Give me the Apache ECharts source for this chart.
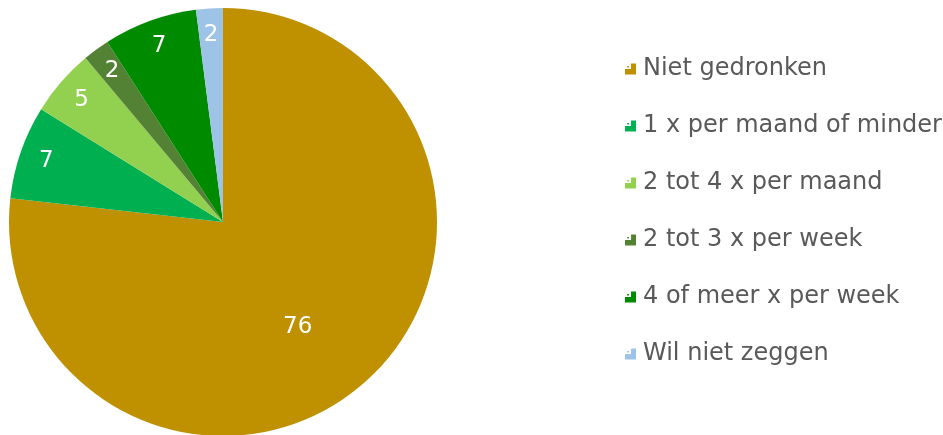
<!DOCTYPE html>
<html>
<head>
<meta charset="utf-8">
<script src="https://cdn.jsdelivr.net/npm/echarts@6/dist/echarts.min.js"></script>
<style>
html,body{margin:0;padding:0;background:#fff;}
#chart{width:943px;height:435px;}
</style>
</head>
<body>
<div id="chart"></div>
<script>
const categories = ['Niet gedronken', '1 x per maand of minder', '2 tot 4 x per maand', '2 tot 3 x per week', '4 of meer x per week', 'Wil niet zeggen'];
const values = [76, 7, 5, 2, 7, 2];
const colors = ['#BF9000', '#00B050', '#92D050', '#548235', '#008A00', '#9DC3E6'];

const font = 'DejaVu Sans';
const center = [223, 222];
const icon = 'path://M5.5,0H10V10H0V5H5.5Z M2,2.2H3.6V3.6H2Z';

function mainData() {
  return categories.map((c, i) => ({ name: c, value: values[i], itemStyle: { color: colors[i] } }));
}
function labelData(showFn) {
  return categories.map((c, i) => ({ name: c, value: values[i], label: { show: showFn(i) } }));
}
const labelStyle = { position: 'inside', color: '#FFFFFF', fontFamily: font, fontSize: 23, formatter: '{c}' };

const chart = echarts.init(document.getElementById('chart'), null, { renderer: 'canvas' });
chart.setOption({
  animation: false,
  legend: {
    orient: 'vertical',
    left: 620,
    top: 52,
    icon: icon,
    itemWidth: 11,
    itemHeight: 11,
    itemGap: 33,
    selectedMode: false,
    data: categories,
    textStyle: { color: '#595959', fontFamily: font, fontSize: 24, lineHeight: 24, padding: [0, 0, 0, 2] }
  },
  series: [
    {
      type: 'pie', center: center, radius: 214, startAngle: 90, clockwise: true,
      label: { show: false }, labelLine: { show: false },
      emphasis: { disabled: true }, silent: true,
      itemStyle: { borderWidth: 0 },
      data: mainData()
    },
    {
      type: 'pie', center: center, radius: [154, 214], startAngle: 90, clockwise: true,
      itemStyle: { color: 'rgba(0,0,0,0)' }, labelLine: { show: false },
      emphasis: { disabled: true }, silent: true,
      label: labelStyle,
      data: labelData(i => i !== 0)
    },
    {
      type: 'pie', center: center, radius: [0, 254], startAngle: 90, clockwise: true,
      itemStyle: { color: 'rgba(0,0,0,0)' }, labelLine: { show: false },
      emphasis: { disabled: true }, silent: true,
      label: Object.assign({}, labelStyle, { offset: [-12, 8] }),
      data: labelData(i => i === 0)
    }
  ]
});
</script>
</body>
</html>
